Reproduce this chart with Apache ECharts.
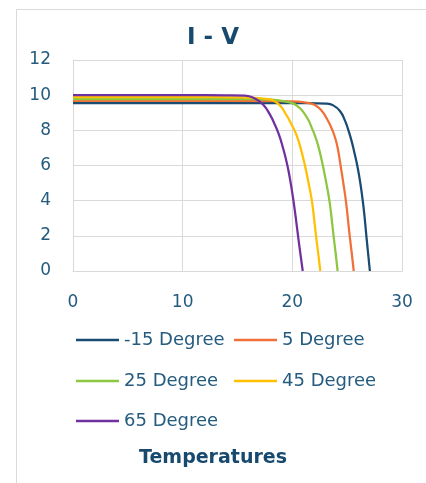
<!DOCTYPE html>
<html>
<head>
<meta charset="utf-8">
<script src="https://cdn.jsdelivr.net/npm/echarts@6/dist/echarts.min.js"></script>
<style>
html,body{margin:0;padding:0;background:#fff;}
#c{width:426px;height:483px;}
</style>
</head>
<body>
<div id="c"></div>
<script>
// Voltage (V) / current (A) pairs
var seriesNames = ['-15 Degree', '5 Degree', '25 Degree', '45 Degree', '65 Degree'];
var curveM15 = [[0,9.55],[10,9.55],[20,9.55],[22,9.54],[23.1,9.52],[23.73,9.42],[24.34,9.1],[24.8,8.55],[25.1,8.03],[25.4,7.4],[25.65,6.75],[25.92,6.0],[26.2,5.0],[26.42,4.0],[26.6,3.0],[26.75,2.0],[26.91,1.0],[27.07,0]];
var curve5 = [[0,9.67],[10,9.67],[18,9.66],[20,9.64],[21,9.6],[21.5,9.55],[22.0,9.45],[22.6,9.17],[23.2,8.6],[23.66,8.0],[23.96,7.45],[24.15,6.95],[24.4,6.0],[24.65,5.0],[24.88,4.0],[25.06,3.0],[25.23,2.0],[25.42,1.0],[25.6,0]];
var curve25 = [[0,9.78],[10,9.78],[16,9.77],[18,9.74],[19.2,9.66],[20.1,9.52],[20.6,9.3],[20.9,9.12],[21.45,8.6],[21.8,8.1],[22.06,7.7],[22.37,7.1],[22.78,6.0],[23.1,5.0],[23.38,4.0],[23.58,3.0],[23.76,2.0],[23.95,1.0],[24.13,0]];
var curve45 = [[0,9.89],[10,9.89],[15,9.88],[16.5,9.85],[17.8,9.77],[18.72,9.5],[19.33,9.0],[19.94,8.32],[20.4,7.7],[20.75,7.0],[21.15,6.0],[21.48,5.0],[21.78,4.0],[21.98,3.0],[22.16,2.0],[22.36,1.0],[22.55,0]];
var curve65 = [[0,10.0],[10,10.0],[14,9.99],[15.68,9.97],[16.6,9.8],[17.35,9.46],[17.96,8.89],[18.41,8.32],[18.78,7.75],[19.17,6.95],[19.55,6.0],[19.85,5.0],[20.1,4.0],[20.32,3.0],[20.52,2.0],[20.73,1.0],[20.95,0]];
var xTicks = {min: 0, max: 30, step: 10};
var yTicks = {min: 0, max: 12, step: 2};

var curves = [curveM15, curve5, curve25, curve45, curve65];
var colors = ['#1a4b72', '#f07038', '#8dc641', '#ffc000', '#7030a0'];
var textColor = '#245b7e';
var font = 'DejaVu Sans';

var chart = echarts.init(document.getElementById('c'), null, {renderer: 'canvas'});

var legendPos = [[76, 331], [234, 331], [76, 372], [234, 372], [76, 412]];
var legends = seriesNames.map(function (n, i) {
  return {
    data: [n],
    left: legendPos[i][0],
    top: legendPos[i][1],
    icon: 'rect',
    itemWidth: 43,
    itemHeight: 2.5,
    itemGap: 5,
    selectedMode: false,
    padding: 0,
    textStyle: {color: textColor, fontSize: 18, fontFamily: font}
  };
});

chart.setOption({
  animation: false,
  backgroundColor: '#fff',
  textStyle: {fontFamily: font},
  title: [{
    text: 'I - V',
    left: 'center',
    top: 27,
    padding: 0,
    textStyle: {color: '#174a6e', fontSize: 23, fontWeight: 'bold', fontFamily: font}
  }, {
    text: 'Temperatures',
    left: 'center',
    top: 449,
    padding: 0,
    textStyle: {color: '#174a6e', fontSize: 19, fontWeight: 'bold', fontFamily: font}
  }],
  graphic: [{
    type: 'rect',
    z: -10,
    shape: {x: 16.5, y: 9.5, width: 440, height: 500},
    style: {fill: 'none', stroke: '#d9d9d9', lineWidth: 1}
  }],
  legend: legends,
  grid: {left: 73, right: 24, top: 60, bottom: 212, containLabel: false},
  xAxis: {
    type: 'value',
    min: xTicks.min, max: xTicks.max, interval: xTicks.step,
    axisLine: {show: true, lineStyle: {color: '#d9d9d9'}},
    axisTick: {show: false},
    splitLine: {show: true, lineStyle: {color: '#d9d9d9'}},
    axisLabel: {color: textColor, fontSize: 17, fontFamily: font, margin: 23}
  },
  yAxis: {
    type: 'value',
    min: yTicks.min, max: yTicks.max, interval: yTicks.step,
    axisLine: {show: true, lineStyle: {color: '#d9d9d9'}},
    axisTick: {show: false},
    splitLine: {show: true, lineStyle: {color: '#d9d9d9'}},
    axisLabel: {color: textColor, fontSize: 17, fontFamily: font, margin: 22}
  },
  series: seriesNames.map(function (n, i) {
    return {
      name: n,
      type: 'line',
      data: curves[i],
      showSymbol: false,
      symbol: 'none',
      smooth: 0.5,
      color: colors[i],
      lineStyle: {color: colors[i], width: 2.25}
    };
  })
});
</script>
</body>
</html>
